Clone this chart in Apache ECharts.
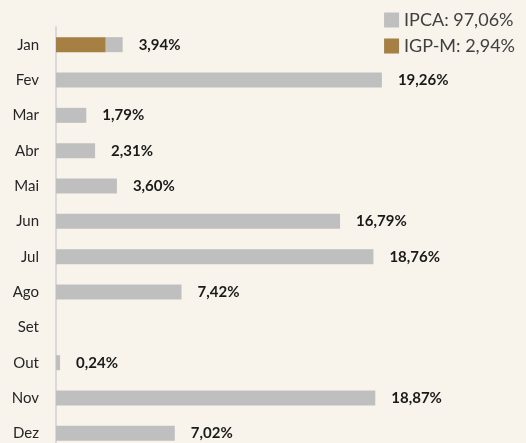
<!DOCTYPE html>
<html>
<head>
<meta charset="utf-8">
<script src="https://cdn.jsdelivr.net/npm/echarts@6/dist/echarts.min.js"></script>
<style>
  html, body { margin: 0; padding: 0; background: #f8f4ec; }
  #main { width: 526px; height: 443px; }
</style>
</head>
<body>
<div id="main"></div>
<script>
// meses
const months = ["Jan", "Fev", "Mar", "Abr", "Mai", "Jun", "Jul", "Ago", "Set", "Out", "Nov", "Dez"];
// participação por indexador (%)
const ipca = [1.00, 19.26, 1.79, 2.31, 3.60, 16.79, 18.76, 7.42, 0, 0.24, 18.87, 7.02];
const igpm = [2.94, 0, 0, 0, 0, 0, 0, 0, 0, 0, 0, 0];
const legendNames = ["IPCA: 97,06%", "IGP-M: 2,94%"];

const fmt = (v) => v.toFixed(2).replace(".", ",") + "%";

const myChart = echarts.init(document.getElementById("main"));

const option = {
  backgroundColor: "#f8f4ec",
  animation: false,
  textStyle: { fontFamily: "Lato" },
  legend: {
    data: [legendNames[0], legendNames[1]],
    orient: "vertical",
    right: 6,
    top: 6,
    itemWidth: 15,
    itemHeight: 15,
    itemGap: 8,
    icon: "rect",
    textStyle: { fontSize: 18, color: "#404040", fontFamily: "Lato" },
  },
  grid: {
    left: 56,
    top: 27,
    width: 423,
    height: 424,
    outerBoundsMode: "none",
  },
  xAxis: {
    type: "value",
    min: 0,
    max: 25,
    show: false,
  },
  yAxis: {
    type: "category",
    data: months,
    inverse: true,
    axisLine: { show: true, lineStyle: { color: "#d9d9d9", width: 2 } },
    axisTick: { show: false },
    axisLabel: { color: "#262626", fontSize: 15, margin: 17 },
  },
  series: [
    {
      name: legendNames[1],
      type: "bar",
      stack: "total",
      barWidth: 15,
      data: igpm,
      itemStyle: { color: "#a67f42" },
    },
    {
      name: legendNames[0],
      type: "bar",
      stack: "total",
      barWidth: 15,
      data: ipca,
      itemStyle: { color: "#bfbfbf" },
      label: {
        show: true,
        position: "right",
        distance: 16,
        fontSize: 15,
        fontWeight: "bold",
        color: "#1a1a1a",
        formatter: function (p) {
          const total = ipca[p.dataIndex] + igpm[p.dataIndex];
          return total > 0 ? fmt(total) : "";
        },
      },
    },
  ],
};

myChart.setOption(option);
</script>
</body>
</html>
